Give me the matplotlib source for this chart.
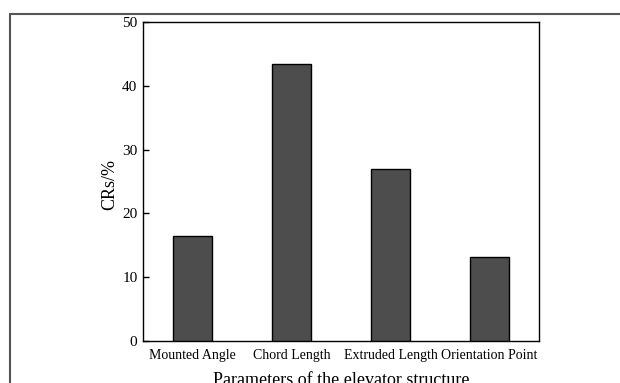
import matplotlib
matplotlib.use('Agg')
import matplotlib.pyplot as plt
from matplotlib.patches import Rectangle
import numpy as np

labels = ['Mounted Angle', 'Chord Length', 'Extruded Length', 'Orientation Point']
crs = [16.4, 43.4, 27.0, 13.1]

plt.rcParams['font.family'] = ['Liberation Serif', 'DejaVu Serif']

fig = plt.figure(figsize=(6.2, 3.83), dpi=100)
ax = fig.add_axes([143/620, 1 - 341/383, 396/620, 319/383])

# outer frame, cut off at right and bottom
fig.patches.append(Rectangle((9.5/620, -0.1), 1.0, 1 - 13.5/383 + 0.1,
                             transform=fig.transFigure, fill=False,
                             edgecolor='#555555', linewidth=1.5))

x = np.arange(len(labels))
ax.bar(x, crs, 0.4, color='#4d4d4d', edgecolor='black', linewidth=1.0, zorder=3)

ax.set_xlim(-0.5, 3.5)
ax.set_ylim(0, 50)
ax.set_yticks([0, 10, 20, 30, 40, 50])
ax.set_xticks(x, labels)
ax.tick_params(axis='y', direction='in', length=4, width=1, labelsize=11, pad=4)
ax.tick_params(axis='x', length=0, labelsize=10, pad=6)
for s in ax.spines.values():
    s.set_linewidth(1.0)

ax.set_ylabel('CRs/%', fontsize=13)
ax.yaxis.set_label_coords(-0.062, 0.49)
ax.set_xlabel('Parameters of the elevator structure', fontsize=13, labelpad=7)

fig.savefig('out.png', dpi=100)
